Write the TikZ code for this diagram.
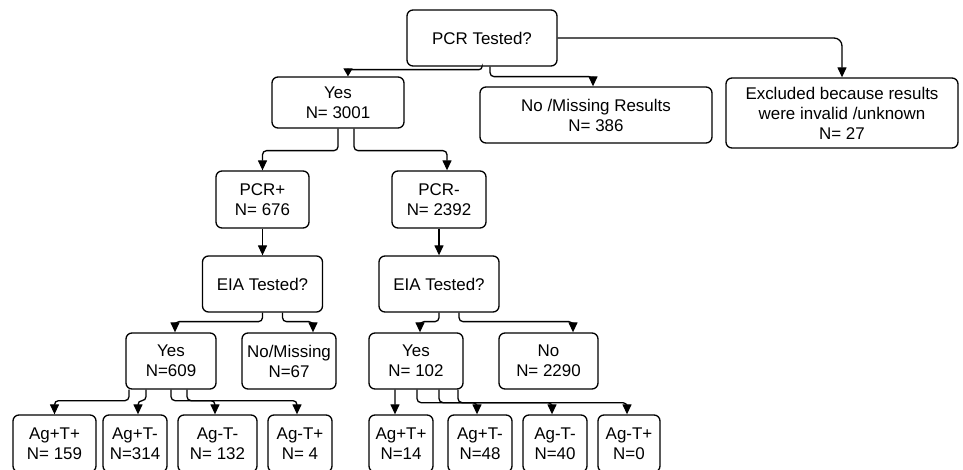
\documentclass[tikz,border=0pt]{standalone}
\usepackage{fontspec}
\setmainfont{Liberation Sans}
\usetikzlibrary{arrows.meta}

\begin{document}
\begin{tikzpicture}
         [x=1bp,y=-1bp,
          box/.style={draw,line width=1.3bp,rounded corners=6bp,align=center,inner sep=0pt,
                      font=\fontsize{17}{20}\selectfont},
          link/.style={line width=1.3bp,rounded corners=4bp,-{Triangle[length=10bp,width=9bp]}}]
         \useasboundingbox (0,0) rectangle (963,470);

         % top level
         \node[box,minimum width=150bp,minimum height=56bp] (nPCR) at (482,38) {PCR Tested?};
         \node[box,minimum width=132bp,minimum height=51bp] (nYes) at (338,102.5) {Yes\\N= 3001};
         \node[box,minimum width=232bp,minimum height=56bp] (nNoRes) at (596,115) {No /Missing Results\\N= 386};
         \node[box,minimum width=232bp,minimum height=70bp] (nExcl) at (842,113) {Excluded because results\\were invalid /unknown\\N= 27};

         % PCR result
         \node[box,minimum width=93bp,minimum height=57bp] (nPCRpos) at (262.5,199.5) {PCR+\\N= 676};
         \node[box,minimum width=94bp,minimum height=57bp] (nPCRneg) at (439,199.5) {PCR-\\N= 2392};
         \node[box,minimum width=120bp,minimum height=56bp] (nEIAa) at (262.5,284) {EIA Tested?};
         \node[box,minimum width=120bp,minimum height=56bp] (nEIAb) at (439,284) {EIA Tested?};

         % EIA result
         \node[box,minimum width=90bp,minimum height=56bp] (nYesA) at (171,361) {Yes\\N=609};
         \node[box,minimum width=94bp,minimum height=56bp] (nNoA) at (289,361) {No/Missing\\N=67};
         \node[box,minimum width=94bp,minimum height=56bp] (nYesB) at (416,361) {Yes\\N= 102};
         \node[box,minimum width=99bp,minimum height=56bp] (nNoB) at (548.5,361) {No\\N= 2290};

         % Ag / T
         \node[box,minimum width=83bp,minimum height=57bp] (nA1) at (54.5,443.5) {Ag+T+\\N= 159};
         \node[box,minimum width=64bp,minimum height=57bp] (nA2) at (135,443.5) {Ag+T-\\N=314};
         \node[box,minimum width=79bp,minimum height=57bp] (nA3) at (217.5,443.5) {Ag-T-\\N= 132};
         \node[box,minimum width=64bp,minimum height=57bp] (nA4) at (300,443.5) {Ag-T+\\N= 4};
         \node[box,minimum width=64bp,minimum height=57bp] (nB1) at (401,443.5) {Ag+T+\\N=14};
         \node[box,minimum width=64bp,minimum height=57bp] (nB2) at (480,443.5) {Ag+T-\\N=48};
         \node[box,minimum width=64bp,minimum height=57bp] (nB3) at (555,443.5) {Ag-T-\\N=40};
         \node[box,minimum width=62bp,minimum height=57bp] (nB4) at (629,443.5) {Ag-T+\\N=0};

         \draw[link,rounded corners=3bp,-{Triangle[length=8bp,width=9bp]}] (nPCR.south) -- ++(0,3) -| ([xshift=10bp]nYes.north);
         \draw[link] ([xshift=8bp]nPCR.south) -- ++(0,10) -| ([xshift=-3bp]nNoRes.north);
         \draw[link,rounded corners=8bp] (nPCR.east) -| (nExcl.north);

         \draw[link] (nYes.south) -- ++(0,22) -| (nPCRpos.north);
         \draw[link] ([xshift=16bp]nYes.south) -- ++(0,22) -| ([xshift=8bp]nPCRneg.north);
         \draw[link] (nPCRpos.south) -- (nEIAa.north);
         \draw[link] (nPCRneg.south) -- (nEIAb.north);

         \draw[link] (nEIAa.south) -- ++(0,9) -| ([xshift=4bp]nYesA.north);
         \draw[link] ([xshift=20bp]nEIAa.south) -- ++(0,9) -| ([xshift=24bp]nNoA.north);
         \draw[link] (nEIAb.south) -- ++(0,9) -| ([xshift=4bp]nYesB.north);
         \draw[link] ([xshift=20bp]nEIAb.south) -- ++(0,9) -| ([xshift=24.5bp]nNoB.north);

         \foreach \s/\t/\to in {-42/0/nA1,-25/3/nA2,0/-2.5/nA3,16/-3/nA4}
             \draw[link] ([xshift=\s*1bp]nYesA.south) -- ++(0,11) -| ([xshift=\t*1bp]\to.north);
         \draw[link] ([xshift=-21bp]nYesB.south) -- ([xshift=-6bp]nB1.north);
         \foreach \s/\t/\to in {1/-3/nB2,23/-3/nB3,42/-2/nB4}
             \draw[link] ([xshift=\s*1bp]nYesB.south) -- ++(0,13) -| ([xshift=\t*1bp]\to.north);

     \end{tikzpicture}
\end{document}
